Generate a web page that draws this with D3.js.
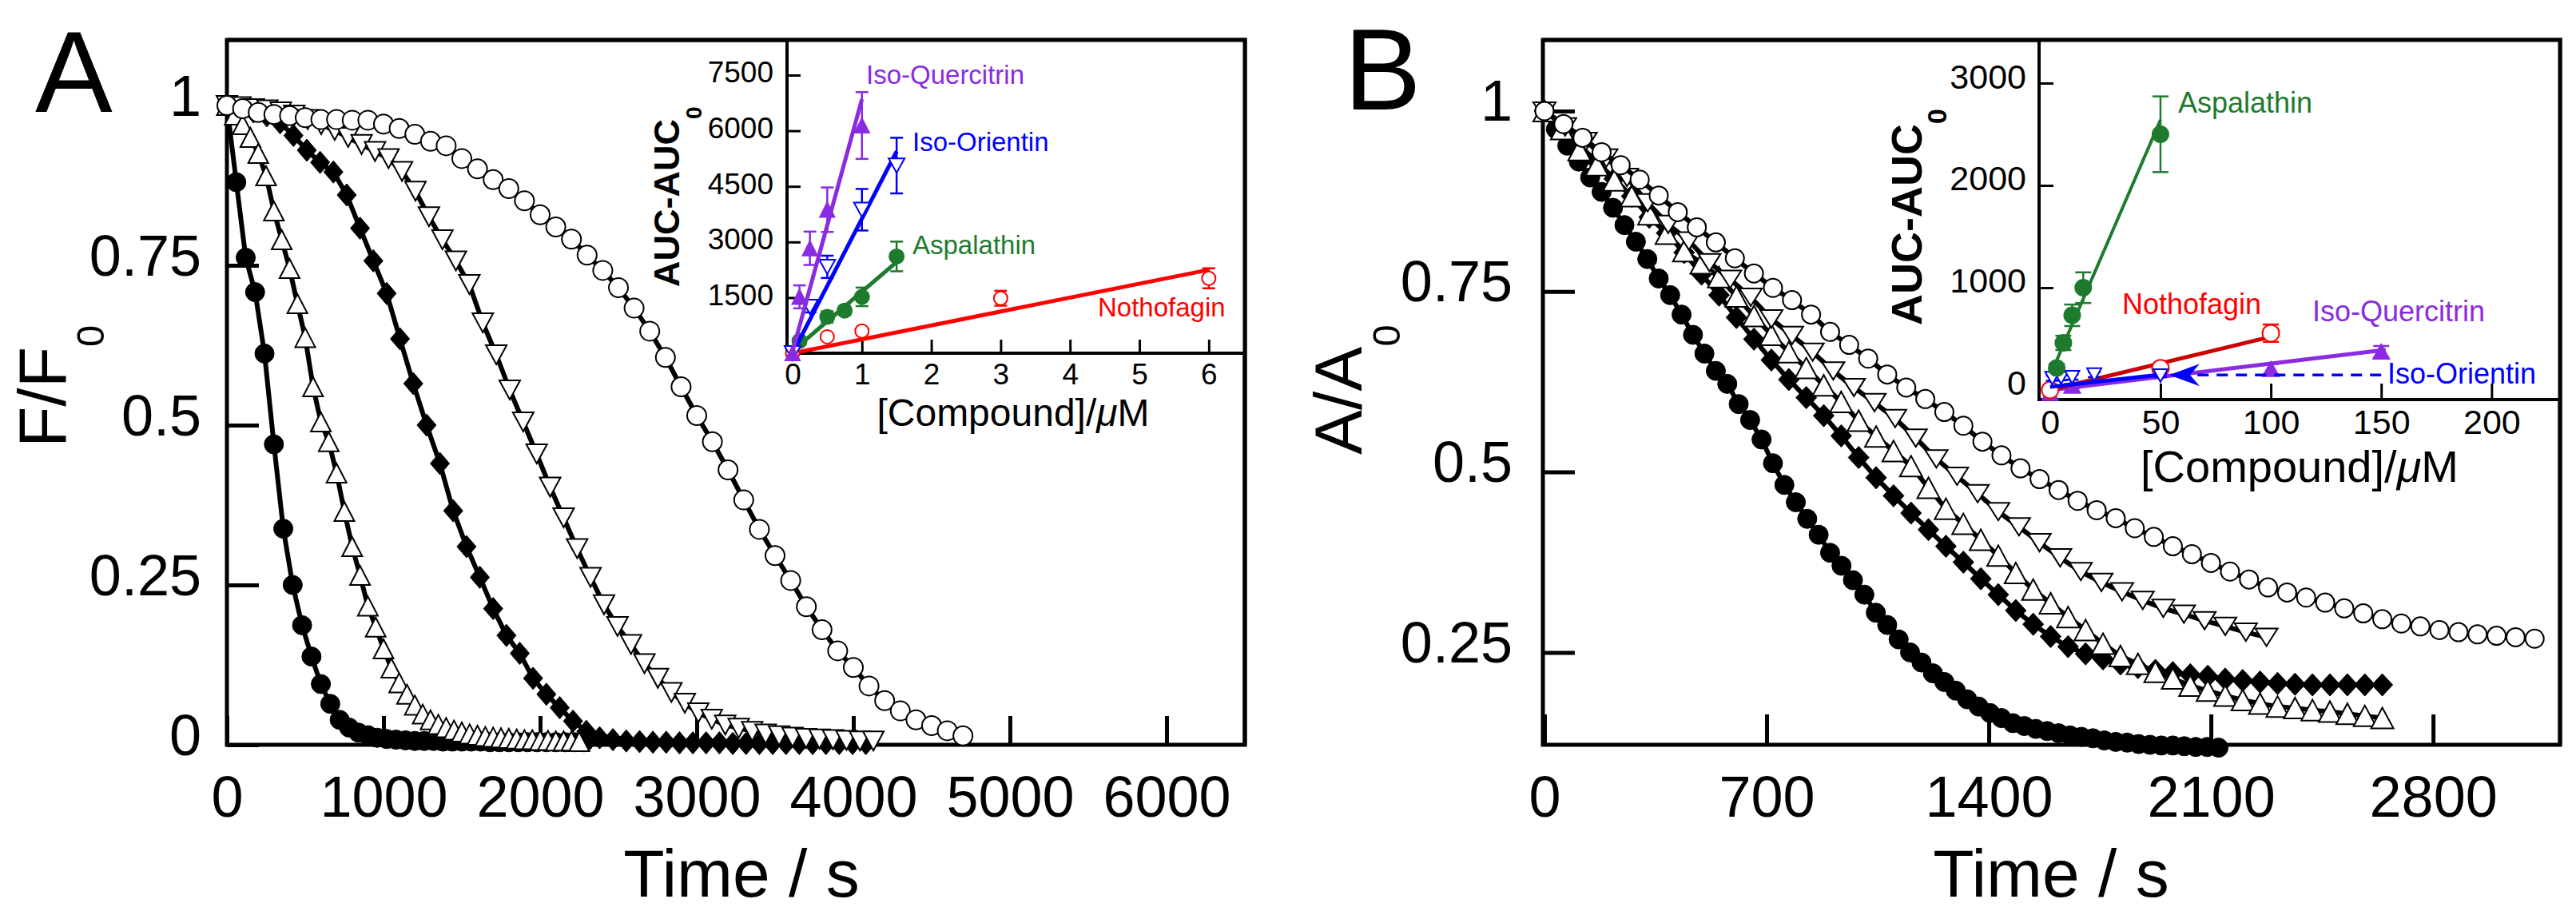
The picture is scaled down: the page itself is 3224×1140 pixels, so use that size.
<!DOCTYPE html>
<html>
<head>
<meta charset="utf-8">
<script src="https://cdn.jsdelivr.net/npm/d3@7"></script>
<style>
  body { margin: 0; background: #fff; }
  svg { display: block; }
</style>
</head>
<body>
<svg id="chart" width="3224" height="1140"></svg>
<script>
// ---- Panel A : fluorescence decay (F/F0) vs time ----
const timeA1 = [0,60,120,180,240,300,360,420,480,540,600,660,720,780,840,900,960,1020,1080,1140,1200,1260,1320,1380,1440,1500,1560,1620,1680,1740,1800,1860,1920,1980,2040,2100,2160,2220,2280];
const valueA1 = [1.000,0.880,0.762,0.708,0.612,0.470,0.338,0.250,0.187,0.138,0.095,0.064,0.039,0.027,0.019,0.015,0.011,0.009,0.008,0.007,0.006,0.006,0.006,0.005,0.005,0.005,0.005,0.005,0.004,0.004,0.004,0.004,0.004,0.004,0.004,0.004,0.004,0.004,0.004];
const timeA2 = [0,50,100,150,200,250,300,350,400,450,500,550,600,650,700,750,800,850,900,950,1000,1050,1100,1150,1200,1250,1300,1350,1400,1450,1500,1550,1600,1650,1700,1750,1800,1850,1900,1950,2000,2050,2100,2150,2200,2250];
const valueA2 = [1.000,0.985,0.970,0.950,0.925,0.890,0.835,0.790,0.745,0.690,0.637,0.560,0.505,0.474,0.425,0.365,0.310,0.265,0.217,0.184,0.150,0.120,0.097,0.079,0.062,0.048,0.039,0.032,0.027,0.023,0.020,0.017,0.015,0.013,0.012,0.011,0.010,0.009,0.008,0.008,0.007,0.007,0.006,0.006,0.006,0.005];
const timeA3 = [0,85,170,255,340,425,510,595,680,765,850,935,1020,1105,1190,1275,1360,1445,1530,1615,1700,1785,1870,1955,2040,2125,2210,2295,2380,2465,2550,2635,2720,2805,2890,2975,3060,3145,3230,3315,3400,3485,3570,3655,3740,3825,3910,3995,4080];
const valueA3 = [1.000,0.995,0.990,0.984,0.973,0.953,0.930,0.911,0.896,0.860,0.808,0.757,0.706,0.635,0.565,0.500,0.440,0.366,0.310,0.262,0.213,0.171,0.143,0.104,0.079,0.058,0.037,0.021,0.011,0.008,0.006,0.005,0.004,0.004,0.003,0.003,0.003,0.003,0.002,0.002,0.002,0.002,0.002,0.002,0.002,0.002,0.002,0.002,0.002];
const timeA4 = [0,86,172,258,344,430,516,602,688,774,860,946,1032,1118,1204,1290,1376,1462,1548,1634,1720,1806,1892,1978,2064,2150,2236,2322,2408,2494,2580,2666,2752,2838,2924,3010,3096,3182,3268,3354,3440,3526,3612,3698,3784,3870,3956,4042,4128];
const valueA4 = [1.000,0.998,0.995,0.993,0.990,0.985,0.978,0.970,0.961,0.950,0.939,0.928,0.917,0.897,0.866,0.826,0.790,0.757,0.720,0.660,0.610,0.555,0.505,0.455,0.403,0.355,0.307,0.262,0.219,0.185,0.157,0.127,0.104,0.082,0.065,0.050,0.040,0.031,0.026,0.021,0.017,0.014,0.012,0.010,0.009,0.008,0.007,0.006,0.006];
const timeA5 = [0,100,200,300,400,500,600,700,800,900,1000,1100,1200,1300,1400,1500,1600,1700,1800,1900,2000,2100,2200,2300,2400,2500,2600,2700,2800,2900,3000,3100,3200,3300,3400,3500,3600,3700,3800,3900,4000,4100,4200,4300,4400,4500,4600,4700];
const valueA5 = [1.000,0.995,0.989,0.986,0.984,0.981,0.978,0.978,0.977,0.977,0.971,0.964,0.955,0.944,0.937,0.917,0.901,0.884,0.870,0.851,0.829,0.810,0.791,0.766,0.742,0.715,0.683,0.647,0.606,0.560,0.515,0.474,0.430,0.383,0.337,0.296,0.257,0.216,0.180,0.147,0.121,0.092,0.069,0.053,0.039,0.030,0.022,0.014];

// ---- Panel B : absorbance decay (A/A0) vs time ----
const timeB1 = [0,36,72,108,144,180,216,252,288,324,360,396,432,468,504,540,576,612,648,684,720,756,792,828,864,900,936,972,1008,1044,1080,1116,1152,1188,1224,1260,1296,1332,1368,1404,1440,1476,1512,1548,1584,1620,1656,1692,1728,1764,1800,1836,1872,1908,1944,1980,2016,2052,2088,2124];
const valueB1 = [1.000,0.975,0.952,0.930,0.908,0.888,0.866,0.842,0.819,0.795,0.768,0.745,0.718,0.690,0.664,0.640,0.622,0.594,0.572,0.545,0.512,0.482,0.458,0.435,0.413,0.388,0.370,0.350,0.330,0.305,0.288,0.268,0.250,0.236,0.221,0.209,0.197,0.185,0.175,0.166,0.159,0.152,0.148,0.144,0.141,0.138,0.135,0.133,0.131,0.128,0.126,0.125,0.123,0.122,0.121,0.121,0.120,0.119,0.119,0.118];
const timeB23 = [0,55,110,165,220,275,330,385,440,495,550,605,660,715,770,825,880,935,990,1045,1100,1155,1210,1265,1320,1375,1430,1485,1540,1595,1650,1705,1760,1815,1870,1925,1980,2035,2090,2145,2200,2255,2310,2365,2420,2475,2530,2585,2640];
const valueB2 = [1.000,0.976,0.952,0.930,0.906,0.882,0.853,0.831,0.804,0.774,0.745,0.714,0.684,0.655,0.628,0.603,0.578,0.550,0.520,0.492,0.467,0.443,0.420,0.397,0.375,0.352,0.330,0.308,0.289,0.272,0.258,0.248,0.241,0.234,0.229,0.225,0.222,0.219,0.217,0.213,0.211,0.209,0.207,0.206,0.205,0.205,0.205,0.205,0.205];
const valueB3 = [1.000,0.975,0.946,0.925,0.904,0.882,0.857,0.830,0.806,0.789,0.770,0.743,0.716,0.690,0.666,0.644,0.620,0.597,0.571,0.549,0.529,0.508,0.478,0.449,0.428,0.406,0.384,0.360,0.337,0.318,0.299,0.281,0.262,0.245,0.234,0.223,0.214,0.204,0.197,0.190,0.184,0.179,0.175,0.173,0.170,0.168,0.165,0.162,0.159];
const timeB4 = [0,65,130,195,260,325,390,455,520,585,650,715,780,845,910,975,1040,1105,1170,1235,1300,1365,1430,1495,1560,1625,1690,1755,1820,1885,1950,2015,2080,2145,2210,2275];
const valueB4 = [1.000,0.978,0.958,0.935,0.908,0.873,0.843,0.820,0.790,0.767,0.742,0.712,0.689,0.666,0.640,0.617,0.596,0.574,0.547,0.518,0.494,0.470,0.445,0.424,0.402,0.381,0.362,0.347,0.334,0.322,0.311,0.303,0.294,0.286,0.278,0.271];
const timeB5 = [0,60,120,180,240,300,360,420,480,540,600,660,720,780,840,900,960,1020,1080,1140,1200,1260,1320,1380,1440,1500,1560,1620,1680,1740,1800,1860,1920,1980,2040,2100,2160,2220,2280,2340,2400,2460,2520,2580,2640,2700,2760,2820,2880,2940,3000,3060,3120];
const valueB5 = [1.000,0.982,0.963,0.943,0.925,0.905,0.883,0.860,0.839,0.818,0.796,0.775,0.755,0.738,0.718,0.694,0.676,0.657,0.635,0.617,0.601,0.583,0.564,0.542,0.523,0.505,0.490,0.475,0.460,0.447,0.436,0.422,0.410,0.397,0.386,0.374,0.362,0.351,0.340,0.333,0.326,0.319,0.311,0.304,0.296,0.290,0.286,0.281,0.278,0.275,0.273,0.271,0.269];

// ---- insets : AUC-AUC0 vs concentration ----
const compounds = ["Iso-Quercitrin", "Iso-Orientin", "Aspalathin", "Nothofagin"];
// inset A (µM)
const concA_IQ = [0, 0.1, 0.25, 0.5, 1.0];
const aucA_IQ  = [0, 1520, 2830, 3870, 6140];
const errA_IQ  = [0, 310, 450, 600, 900];
const concA_IO = [0, 0.25, 0.5, 1.0, 1.5];
const aucA_IO  = [0, 1250, 2330, 3870, 5060];
const errA_IO  = [0, 150, 300, 560, 750];
const concA_AS = [0.1, 0.5, 0.75, 1.0, 1.5];
const aucA_AS  = [330, 980, 1150, 1520, 2610];
const errA_AS  = [60, 150, 120, 250, 400];
const concA_NO = [0, 0.5, 1.0, 3.0, 6.0];
const aucA_NO  = [0, 444, 597, 1482, 2021];
const errA_NO  = [0, 0, 0, 200, 270];
const fitSlopeA = [6800, 3630, 1600, 375];
const fitInterceptA = [50, 0, 60, 0];
const fitRangeA = [[0, 1.0], [0, 1.5], [0, 1.5], [0, 6.0]];
// inset B (µM)
const concB_IQ = [0, 10, 100, 150];
const aucB_IQ  = [-30, 40, 205, 375];
const errB_IQ  = [0, 20, 50, 55];
const concB_IO = [1, 5, 10, 20, 50];
const aucB_IO  = [115, 120, 125, 150, 140];
const errB_IO  = [25, 25, 25, 25, 15];
const concB_AS = [3, 6, 10, 15, 50];
const aucB_AS  = [215, 460, 730, 1000, 2500];
const errB_AS  = [40, 70, 105, 150, 370];
const concB_NO = [0, 50, 100];
const aucB_NO  = [0, 213, 555];
const errB_NO  = [0, 40, 85];
const fitSlopeB = [2.6, 2.4, 50, 5.2];
const fitInterceptB = [-2, 30, 140, 0];
const fitRangeB = [[0, 152], [0, 52], [1, 50], [0, 100]];
const arrowIO = [[150, 146], [54, 146]];   // dashed pointer from label to Iso-Orientin

// ---- ticks ----
const ticksAx = [0, 1000, 2000, 3000, 4000, 5000, 6000];
const tickLabelsAx = ["0", "1000", "2000", "3000", "4000", "5000", "6000"];
const ticksAy = [0, 0.25, 0.5, 0.75, 1];
const tickLabelsAy = ["0", "0.25", "0.5", "0.75", "1"];
const ticksBx = [0, 700, 1400, 2100, 2800];
const tickLabelsBx = ["0", "700", "1400", "2100", "2800"];
const ticksBy = [0.25, 0.5, 0.75, 1];
const tickLabelsBy = ["0.25", "0.5", "0.75", "1"];
const ticksIAx = [0, 1, 2, 3, 4, 5, 6];
const ticksIAy = [1500, 3000, 4500, 6000, 7500];
const ticksIBx = [0, 50, 100, 150, 200];
const ticksIBy = [0, 1000, 2000, 3000];

// ---- layout ----
const FONT = "'Liberation Sans', Arial, Helvetica, sans-serif";
const colors = {"Iso-Quercitrin": "#8a2be2", "Iso-Orientin": "#0000ff", "Aspalathin": "#1e7b2e", "Nothofagin": "#ff0000"};

const svg = d3.select("#chart").attr("font-family", FONT);
svg.append("rect").attr("width", 3224).attr("height", 1140).attr("fill", "#fff");

const xA = d3.scaleLinear().domain([0, 6500]).range([284, 1558]);
const yA = d3.scaleLinear().domain([0, 1.1025]).range([932, 50]);
const xB = d3.scaleLinear().domain([-5, 3200]).range([1931, 3204]);
const yB = d3.scaleLinear().domain([0.122, 1.0985]).range([932, 50]);
const xIA = d3.scaleLinear().domain([-0.08, 6.52]).range([985, 1558]);
const yIA = d3.scaleLinear().domain([0, 8448]).range([442, 50]);
const xIB = d3.scaleLinear().domain([-5, 231]).range([2552, 3204]);
const yIB = d3.scaleLinear().domain([-94, 3422]).range([500, 50]);

function shapePath(shape, w, h) {
  if (shape === "circle") {
    const p = d3.path();
    p.arc(0, 0, w / 2, 0, 2 * Math.PI);
    p.closePath();
    return p.toString();
  }
  if (shape === "triUp") return `M0,${-h / 2}L${w / 2},${h / 2}L${-w / 2},${h / 2}Z`;
  if (shape === "triDown") return `M0,${h / 2}L${w / 2},${-h / 2}L${-w / 2},${-h / 2}Z`;
  return `M0,${-h / 2}L${w / 2},0L0,${h / 2}L${-w / 2},0Z`;   // diamond
}

// a kinetics trace: thick black line, then markers on top
function drawTrace(g, xs, ys, time, value, st) {
  const pts = d3.zip(time, value);
  g.append("path").datum(pts)
    .attr("d", d3.line().x(d => xs(d[0])).y(d => ys(d[1])))
    .attr("fill", "none").attr("stroke", "#000")
    .attr("stroke-width", 6).attr("stroke-linejoin", "round");
  g.selectAll(null).data(pts).join("path")
    .attr("transform", d => `translate(${xs(d[0])},${ys(d[1])})`)
    .attr("d", shapePath(st.shape, st.w, st.h))
    .attr("fill", st.filled ? "#000" : "#fff")
    .attr("stroke", "#000")
    .attr("stroke-width", st.filled ? 1 : 2);
}

// axis helper (inward ticks, custom label placement)
function drawAxis(g, axis, transform, lab) {
  const a = g.append("g").attr("transform", transform).call(axis);
  a.attr("font-family", FONT).attr("font-size", lab.size);
  a.select(".domain").remove();
  a.selectAll(".tick line").attr("stroke", "#000").attr("stroke-width", lab.tickWidth)
    .attr("stroke-opacity", d => (lab.hideZero && d === 0) ? 0 : 1);
  a.selectAll(".tick text").attr("fill", "#000").attr("dy", null)
    .attr("x", lab.x).attr("y", lab.y);
  return a;
}

function rotatedTitle(xBase, yStart, main, sub, size, subSize, subShift, weight, color) {
  const t = svg.append("text")
    .attr("transform", "rotate(-90)")
    .attr("x", -yStart).attr("y", xBase)
    .attr("font-size", size).attr("font-weight", weight).attr("fill", color || "#000");
  t.append("tspan").text(main);
  t.append("tspan").attr("dy", subShift).attr("font-size", subSize).text(sub);
}

// ================= Panel A =================
const gA = svg.append("g");
gA.append("rect").attr("x", 284).attr("y", 50).attr("width", 1274).attr("height", 882)
  .attr("fill", "none").attr("stroke", "#000").attr("stroke-width", 5);

drawAxis(gA, d3.axisBottom(xA).tickValues(ticksAx).tickFormat((d, i) => tickLabelsAx[i]).tickSizeInner(-36).tickSizeOuter(0),
  "translate(0,932)", {size: 72, tickWidth: 5, x: 0, y: 90});
drawAxis(gA, d3.axisLeft(yA).tickValues(ticksAy).tickFormat((d, i) => tickLabelsAy[i]).tickSizeInner(-40).tickSizeOuter(0),
  "translate(284,0)", {size: 72, tickWidth: 5, x: -32, y: 12});

drawTrace(gA, xA, yA, timeA1, valueA1, {shape: "circle", w: 24, h: 24, filled: true});
drawTrace(gA, xA, yA, timeA3, valueA3, {shape: "diamond", w: 24, h: 28, filled: true});
drawTrace(gA, xA, yA, timeA2, valueA2, {shape: "triUp", w: 25, h: 24, filled: false});
drawTrace(gA, xA, yA, timeA4, valueA4, {shape: "triDown", w: 26, h: 24, filled: false});
drawTrace(gA, xA, yA, timeA5, valueA5, {shape: "circle", w: 24, h: 24, filled: false});

svg.append("text").attr("x", 44).attr("y", 140).attr("font-size", 145).text("A");
svg.append("text").attr("x", 928).attr("y", 1122).attr("text-anchor", "middle").attr("font-size", 84).text("Time / s");
rotatedTitle(82, 560, "F/F", "0", 84, 49, 48, "normal");

// ================= Panel B =================
const gB = svg.append("g");
gB.append("rect").attr("x", 1931).attr("y", 50).attr("width", 1273).attr("height", 882)
  .attr("fill", "none").attr("stroke", "#000").attr("stroke-width", 5);

drawAxis(gB, d3.axisBottom(xB).tickValues(ticksBx).tickFormat((d, i) => tickLabelsBx[i]).tickSizeInner(-38).tickSizeOuter(0),
  "translate(0,932)", {size: 72, tickWidth: 5, x: 0, y: 90});
drawAxis(gB, d3.axisLeft(yB).tickValues(ticksBy).tickFormat((d, i) => tickLabelsBy[i]).tickSizeInner(-40).tickSizeOuter(0),
  "translate(1931,0)", {size: 72, tickWidth: 5, x: -38, y: 12});

drawTrace(gB, xB, yB, timeB1, valueB1, {shape: "circle", w: 24, h: 24, filled: true});
drawTrace(gB, xB, yB, timeB23, valueB2, {shape: "diamond", w: 26, h: 28, filled: true});
drawTrace(gB, xB, yB, timeB23, valueB3, {shape: "triUp", w: 28, h: 26, filled: false});
drawTrace(gB, xB, yB, timeB4, valueB4, {shape: "triDown", w: 28, h: 22, filled: false});
drawTrace(gB, xB, yB, timeB5, valueB5, {shape: "circle", w: 23, h: 23, filled: false});

svg.append("text").attr("x", 1682).attr("y", 137).attr("font-size", 145).text("B");
svg.append("text").attr("x", 2567).attr("y", 1122).attr("text-anchor", "middle").attr("font-size", 84).text("Time / s");
rotatedTitle(1704, 569, "A/A", "0", 84, 49, 48, "normal");

// ================= insets =================
function drawInsetSeries(g, xs, ys, conc, auc, err, st, fit, capW) {
  const color = st.color;
  g.append("line")
    .attr("x1", xs(fit.range[0])).attr("y1", ys(fit.slope * fit.range[0] + fit.intercept))
    .attr("x2", xs(fit.range[1])).attr("y2", ys(fit.slope * fit.range[1] + fit.intercept))
    .attr("stroke", st.lineColor || color).attr("stroke-width", st.lw);
  const pts = d3.zip(conc, auc, err);
  const eb = g.selectAll(null).data(pts.filter(d => d[2] > 0)).join("g").attr("stroke", color).attr("stroke-width", 2.5);
  eb.append("line").attr("x1", d => xs(d[0])).attr("x2", d => xs(d[0]))
    .attr("y1", d => ys(d[1] - d[2])).attr("y2", d => ys(d[1] + d[2]));
  eb.append("line").attr("x1", d => xs(d[0]) - capW / 2).attr("x2", d => xs(d[0]) + capW / 2)
    .attr("y1", d => ys(d[1] + d[2])).attr("y2", d => ys(d[1] + d[2]));
  eb.append("line").attr("x1", d => xs(d[0]) - capW / 2).attr("x2", d => xs(d[0]) + capW / 2)
    .attr("y1", d => ys(d[1] - d[2])).attr("y2", d => ys(d[1] - d[2]));
  g.selectAll(null).data(pts).join("path")
    .attr("transform", d => `translate(${xs(d[0])},${ys(d[1])})`)
    .attr("d", shapePath(st.shape, st.w, st.h))
    .attr("fill", st.filled ? color : "#fff")
    .attr("stroke", color).attr("stroke-width", 2);
}

// ---- inset A ----
const gIA = svg.append("g");
gIA.append("rect").attr("x", 985).attr("y", 50).attr("width", 573).attr("height", 392).attr("fill", "#fff");
drawAxis(gIA, d3.axisBottom(xIA).tickValues(ticksIAx).tickFormat(d3.format("d")).tickSizeInner(-17).tickSizeOuter(0),
  "translate(0,442)", {size: 37, tickWidth: 3, x: 0, y: 39, hideZero: true});
drawAxis(gIA, d3.axisLeft(yIA).tickValues(ticksIAy).tickFormat(d3.format("d")).tickSizeInner(-17).tickSizeOuter(0),
  "translate(985,0)", {size: 37, tickWidth: 3, x: -17, y: 9});
gIA.append("path").attr("d", "M985,50V442H1558").attr("fill", "none").attr("stroke", "#000").attr("stroke-width", 4);
svg.append("path").attr("d", "M284,50H1558V932").attr("fill", "none").attr("stroke", "#000").attr("stroke-width", 5);

drawInsetSeries(gIA, xIA, yIA, concA_NO, aucA_NO, errA_NO,
  {color: colors["Nothofagin"], shape: "circle", w: 17, h: 17, filled: false, lw: 5},
  {slope: fitSlopeA[3], intercept: fitInterceptA[3], range: fitRangeA[3]}, 16);
drawInsetSeries(gIA, xIA, yIA, concA_AS, aucA_AS, errA_AS,
  {color: colors["Aspalathin"], shape: "circle", w: 18, h: 18, filled: true, lw: 5},
  {slope: fitSlopeA[2], intercept: fitInterceptA[2], range: fitRangeA[2]}, 16);
drawInsetSeries(gIA, xIA, yIA, concA_IO, aucA_IO, errA_IO,
  {color: colors["Iso-Orientin"], shape: "triDown", w: 20, h: 18, filled: false, lw: 5},
  {slope: fitSlopeA[1], intercept: fitInterceptA[1], range: fitRangeA[1]}, 16);
drawInsetSeries(gIA, xIA, yIA, concA_IQ, aucA_IQ, errA_IQ,
  {color: colors["Iso-Quercitrin"], shape: "triUp", w: 18, h: 18, filled: true, lw: 5},
  {slope: fitSlopeA[0], intercept: fitInterceptA[0], range: fitRangeA[0]}, 16);

const labelPosA = {"Iso-Quercitrin": [1084, 105], "Iso-Orientin": [1142, 189], "Aspalathin": [1142, 318], "Nothofagin": [1374, 396]};
compounds.forEach(c => {
  svg.append("text").attr("x", labelPosA[c][0]).attr("y", labelPosA[c][1])
    .attr("font-size", 33).attr("fill", colors[c]).text(c);
});
const xlabA = svg.append("text").attr("x", 1268).attr("y", 533).attr("text-anchor", "middle").attr("font-size", 48);
xlabA.append("tspan").text("[Compound]/");
xlabA.append("tspan").attr("font-style", "italic").text("\u03bc");
xlabA.append("tspan").text("M");
rotatedTitle(850, 359, "AUC-AUC", "0", 45, 28, 28, "bold");

// ---- inset B ----
const gIB = svg.append("g");
gIB.append("rect").attr("x", 2552).attr("y", 50).attr("width", 652).attr("height", 450).attr("fill", "#fff");
drawAxis(gIB, d3.axisBottom(xIB).tickValues(ticksIBx).tickFormat(d3.format("d")).tickSizeInner(-20).tickSizeOuter(0),
  "translate(0,500)", {size: 43, tickWidth: 3, x: 0, y: 43, hideZero: true});
drawAxis(gIB, d3.axisLeft(yIB).tickValues(ticksIBy).tickFormat(d3.format("d")).tickSizeInner(-18).tickSizeOuter(0),
  "translate(2552,0)", {size: 43, tickWidth: 3, x: -16, y: 6, hideZero: true});
gIB.append("path").attr("d", "M2552,50V500H3204").attr("fill", "none").attr("stroke", "#000").attr("stroke-width", 4);
svg.append("path").attr("d", "M1931,50H3204V932").attr("fill", "none").attr("stroke", "#000").attr("stroke-width", 5);

drawInsetSeries(gIB, xIB, yIB, concB_IQ, aucB_IQ, errB_IQ,
  {color: colors["Iso-Quercitrin"], shape: "triUp", w: 20, h: 18, filled: true, lw: 5},
  {slope: fitSlopeB[0], intercept: fitInterceptB[0], range: fitRangeB[0]}, 20);
drawInsetSeries(gIB, xIB, yIB, concB_NO, aucB_NO, errB_NO,
  {color: colors["Nothofagin"], lineColor: "#cc0000", shape: "circle", w: 21, h: 21, filled: false, lw: 5},
  {slope: fitSlopeB[3], intercept: fitInterceptB[3], range: fitRangeB[3]}, 20);
drawInsetSeries(gIB, xIB, yIB, concB_IO, aucB_IO, errB_IO,
  {color: colors["Iso-Orientin"], shape: "triDown", w: 18, h: 16, filled: false, lw: 5},
  {slope: fitSlopeB[1], intercept: fitInterceptB[1], range: fitRangeB[1]}, 16);
drawInsetSeries(gIB, xIB, yIB, concB_AS, aucB_AS, errB_AS,
  {color: colors["Aspalathin"], shape: "circle", w: 20, h: 20, filled: true, lw: 4},
  {slope: fitSlopeB[2], intercept: fitInterceptB[2], range: fitRangeB[2]}, 20);

// dashed pointer with arrow head toward the Iso-Orientin trace
const ax0 = xIB(arrowIO[0][0]), ay0 = yIB(arrowIO[0][1]);
const ax1 = xIB(arrowIO[1][0]), ay1 = yIB(arrowIO[1][1]);
gIB.append("line").attr("x1", ax0).attr("y1", ay0).attr("x2", ax1 + 30).attr("y2", ay1)
  .attr("stroke", colors["Iso-Orientin"]).attr("stroke-width", 3.5).attr("stroke-dasharray", "14,10");
gIB.append("path")
  .attr("d", `M${ax1},${ay1}L${ax1 + 38},${ay1 - 14}L${ax1 + 26},${ay1}L${ax1 + 38},${ay1 + 14}Z`)
  .attr("fill", colors["Iso-Orientin"]);

const labelPosB = {"Iso-Quercitrin": [2894, 402], "Iso-Orientin": [2988, 480], "Aspalathin": [2726, 141], "Nothofagin": [2656, 393]};
compounds.forEach(c => {
  svg.append("text").attr("x", labelPosB[c][0]).attr("y", labelPosB[c][1])
    .attr("font-size", 36).attr("fill", colors[c]).text(c);
});
const xlabB = svg.append("text").attr("x", 2878).attr("y", 603).attr("text-anchor", "middle").attr("font-size", 56);
xlabB.append("tspan").text("[Compound]/");
xlabB.append("tspan").attr("font-style", "italic").text("\u03bc");
xlabB.append("tspan").text("M");
rotatedTitle(2405, 407, "AUC-AUC", "0", 54, 34, 31, "bold");
</script>
</body>
</html>
